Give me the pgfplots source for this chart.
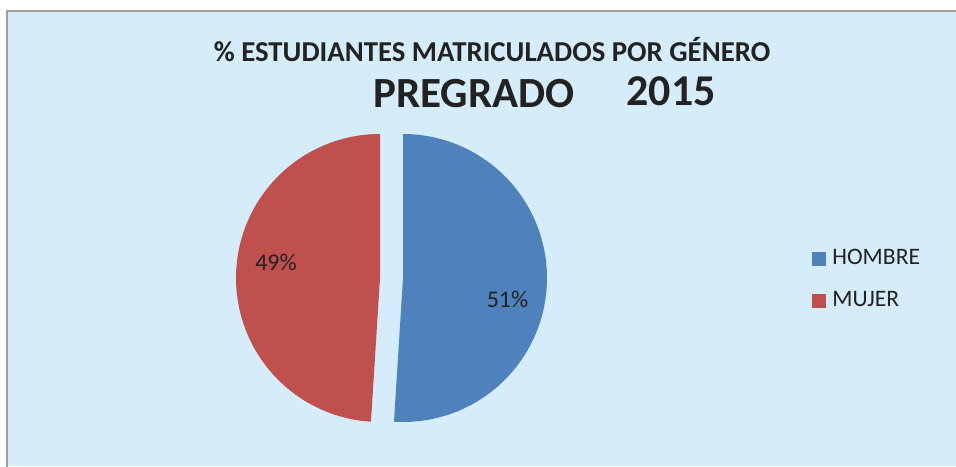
\documentclass[border=0pt]{standalone}
\usepackage{pgfplots}
\pgfplotsset{compat=1.18}
\usepackage{fontspec}
\setmainfont{Carlito}
\definecolor{bgblue}{HTML}{D5EDFA}
\definecolor{pieblue}{HTML}{4F81BD}
\definecolor{piered}{HTML}{C0504D}
\definecolor{framegray}{HTML}{A0A0A0}
\definecolor{txt}{HTML}{222222}
% data (percent)
\def\vH{51}
\def\vM{49}
\begin{document}
\begin{tikzpicture}
\begin{axis}[
  scale only axis, width=478pt, height=233pt,
  xmin=0, xmax=956, ymin=0, ymax=466,
  hide axis, clip=true,
  legend cell align=left,
  legend image code/.code={\fill[#1] (0pt,-3.5pt) rectangle (7pt,3.5pt); \path (8.5pt,0pt);},
  legend style={draw=none, fill=none, at={(axis cs:812,220)}, anchor=north west,
    font=\fontsize{11.8}{13}\selectfont, text=txt, row sep=9pt, inner sep=0pt,
    nodes={inner sep=1.5pt}},
]
% page area, background and frame
\addplot[forget plot, fill=white, draw=none] coordinates {(0,0) (0,466) (956,466) (956,0)} -- cycle;
\addplot[forget plot, fill=bgblue, draw=none] coordinates {(7,0) (7,455) (956,455) (956,0)} -- cycle;
\addplot[forget plot, draw=framegray, line width=1.3pt] coordinates {(7,-5) (7,455) (960,455)};
% pie slices
\addplot[fill=pieblue, draw=none, domain=90:{90-3.6*\vH}, samples=120]
  ({403+144*cos(x)},{188+144*sin(x)}) -- (axis cs:403,188) -- cycle;
\addlegendentry{HOMBRE}
\addplot[fill=piered, draw=none, domain=90:{90+3.6*\vM}, samples=120]
  ({380+144*cos(x)},{188+144*sin(x)}) -- (axis cs:380,188) -- cycle;
\addlegendentry{MUJER}
% data labels
\node[font=\fontsize{12}{14}\selectfont, text=txt] at (axis cs:507.5,167) {\vH\%};
\node[font=\fontsize{12}{14}\selectfont, text=txt] at (axis cs:276,204) {\vM\%};
% titles
\node[anchor=base, inner sep=0pt, font=\bfseries\fontsize{14.4}{16}\selectfont, text=txt] at (axis cs:492,404) {\% ESTUDIANTES MATRICULADOS POR GÉNERO};
\node[anchor=base west, inner sep=0pt, font=\bfseries\fontsize{21.5}{24}\selectfont, text=txt] at (axis cs:373,358) {PREGRADO};
\node[anchor=base west, inner sep=0pt, font=\bfseries\fontsize{22}{24}\selectfont, text=txt] at (axis cs:626,360) {2015};
\end{axis}
\end{tikzpicture}
\end{document}
